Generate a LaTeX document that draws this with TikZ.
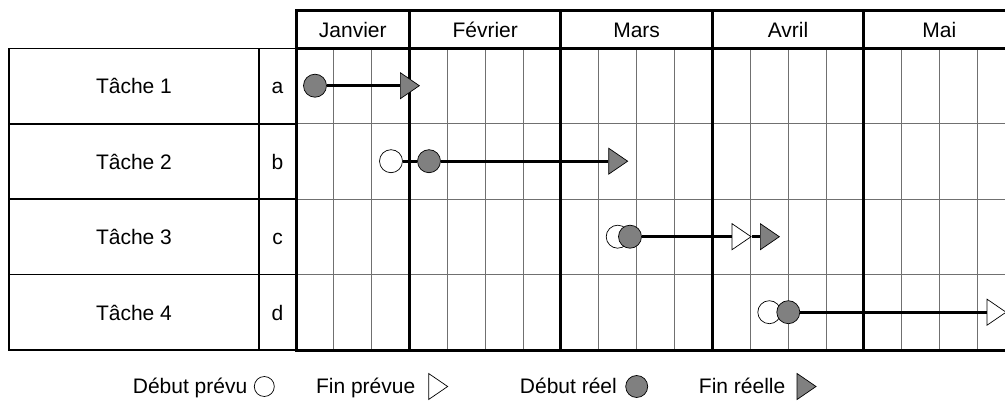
\documentclass[tikz,border=0pt]{standalone}
\usepackage{fontspec}
\setmainfont{Liberation Sans}
\usetikzlibrary{shapes.geometric}
\definecolor{symfill}{HTML}{808080}
\definecolor{gridgray}{HTML}{707070}
\begin{document}
\begin{tikzpicture}[x=1pt,y=-1pt,
  lbl/.style={font=\fontsize{21}{24}\selectfont, inner sep=0pt, anchor=base},
  lgd/.style={font=\fontsize{21}{24}\selectfont, inner sep=0pt, anchor=base east},
  thingrid/.style={draw=gridgray, line width=0.8pt},
  tablebox/.style={draw=black, line width=1.5pt},
  thickline/.style={draw=black, line width=3pt},
  bar/.style={draw=black, line width=3pt},
  circ/.style={circle, minimum size=23pt, inner sep=0pt, draw=black, line width=0.7pt},
  plannedstart/.style={circ, fill=white},
  realstart/.style={circ, fill=symfill},
  tri/.style={isosceles triangle, isosceles triangle stretches, minimum width=26pt, minimum height=19pt, inner sep=0pt, draw=black, line width=0.7pt, anchor=west},
  plannedend/.style={tri, fill=white},
  realend/.style={tri, fill=symfill}
]
\useasboundingbox (0,0) rectangle (1005,401);
\clip (0,0) rectangle (1005,401);
\fill[white] (0,0) rectangle (1005,401);
% grid geometry
\def\xz{296}\def\wk{37.85}
% week lines
\foreach \k in {1,2,4,5,6,8,9,10,12,13,14,16,17,18}
  \draw[thingrid] (\xz+\k*\wk,48.3) -- (\xz+\k*\wk,350.1);
% row lines in grid
\foreach \y in {123.8,199.2,274.7}
  \draw[thingrid] (296,\y) -- (1020,\y);
% left table
\draw[tablebox] (9,48.3) rectangle (296,350.1);
\draw[tablebox] (259,48.3) -- (259,350.1);
\foreach \y in {123.8,199.2,274.7}
  \draw[tablebox] (9,\y) -- (296,\y);
% thick frame
\draw[thickline] (296,11) -- (1020,11);
\draw[thickline] (296,48.3) -- (1020,48.3);
\draw[thickline] (294.5,350.1) -- (1020,350.1);
\foreach \k in {0,3,7,11,15}
  \draw[thickline] (\xz+\k*\wk,9.5) -- (\xz+\k*\wk,351.6);
% month labels
\node[lbl] (m1) at (352.8,37.5) {Janvier};
\node[lbl] (m2) at (485.2,37.5) {Février};
\node[lbl] (m3) at (636.6,37.5) {Mars};
\node[lbl] (m4) at (788.0,37.5) {Avril};
\node[lbl] (m5) at (939.4,37.5) {Mai};
% task labels
\node[lbl] (t1) at (134,93.7) {Tâche 1};
\node[lbl] (t2) at (134,169.2) {Tâche 2};
\node[lbl] (t3) at (134,244.7) {Tâche 3};
\node[lbl] (t4) at (134,320.2) {Tâche 4};
\node[lbl] (l1) at (277.5,93.7) {a};
\node[lbl] (l2) at (277.5,169.2) {b};
\node[lbl] (l3) at (277.5,244.7) {c};
\node[lbl] (l4) at (277.5,320.2) {d};
% task 1
\node[realstart] (r1) at (315,85.7) {};
\node[realend] (e1) at (400,85.7) {};
\draw[bar] (r1) -- (e1);
% task 2
\node[plannedstart] (p2) at (391,161.2) {};
\node[realstart] (r2) at (429,161.2) {};
\node[realend] (e2) at (608.3,161.2) {};
\draw[bar] (p2) -- (r2);
\draw[bar] (r2) -- (e2);
% task 3
\node[plannedstart] (p3) at (617.7,236.7) {};
\node[realstart] (r3) at (630,236.7) {};
\node[plannedend] (pe3) at (731.7,236.7) {};
\node[realend] (e3) at (760,236.7) {};
\draw[bar] (r3) -- (pe3);
\draw[bar] (pe3) -- (e3);
% task 4
\node[plannedstart] (p4) at (769.3,312.2) {};
\node[realstart] (r4) at (788.3,312.2) {};
\node[plannedend] (pe4) at (986.7,312.2) {};
\draw[bar] (r4) -- (pe4);
% legend
\node[lgd] (g1) at (247.5,393.3) {Début prévu};
\node[plannedstart, minimum size=20pt] (gs1) at (264.3,386.5) {};
\node[lgd] (g2) at (415.5,393.3) {Fin prévue};
\node[plannedend] (gs2) at (428.3,386.5) {};
\node[lgd] (g3) at (617,393.3) {Début réel};
\node[realstart, minimum size=22pt] (gs3) at (636.7,386.5) {};
\node[lgd] (g4) at (785.5,393.3) {Fin réelle};
\node[realend] (gs4) at (796.7,386.5) {};
\end{tikzpicture}
\end{document}
